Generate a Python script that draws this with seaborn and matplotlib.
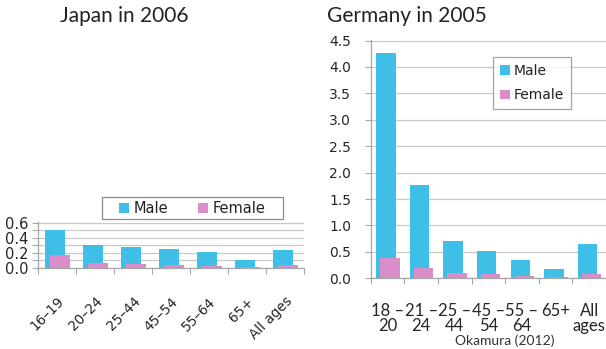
import matplotlib
matplotlib.use("Agg")
import matplotlib.pyplot as plt
import seaborn as sns
import numpy as np
import pandas as pd
from matplotlib.patches import Rectangle
from matplotlib.ticker import MultipleLocator, FixedLocator, FormatStrFormatter

# Japan, 2006
jp_groups = ["16–19", "20–24", "25–44", "45–54", "55–64", "65+", "All ages"]
jp_male = [0.50, 0.31, 0.28, 0.25, 0.21, 0.11, 0.235]
jp_female = [0.17, 0.06, 0.05, 0.04, 0.03, 0.01, 0.04]

# Germany, 2005
de_groups = ["18 –\n20", "21 –\n24", "25 –\n44", "45 –\n54", "55 –\n64", "65+", "All\nages"]
de_male = [4.26, 1.77, 0.70, 0.51, 0.34, 0.17, 0.64]
de_female = [0.39, 0.19, 0.095, 0.09, 0.04, 0.02, 0.09]

MALE = "#3DBFE8"
FEMALE = "#D98DC9"
GRID = "#C9C9C9"
SPINE = "#A6A6A6"
FRAME = "#8C8C8C"

sns.set_theme(style="white")
plt.rcParams["font.family"] = ["DejaVu Sans"]

W, H = 606, 349
fig = plt.figure(figsize=(W / 100, H / 100), dpi=100)


def place(x0, x1, ytop, ybot):
    return fig.add_axes([x0 / W, 1 - ybot / H, (x1 - x0) / W, (ybot - ytop) / H])


def draw_pair(ax, groups, male, female, width, label_pad):
    df = pd.DataFrame({"group": groups, "Male": male, "Female": female})
    sns.barplot(data=df, x="group", y="Male", color=MALE, width=width,
                saturation=1, linewidth=0, ax=ax, label="Male")
    n_male = len(ax.patches)
    sns.barplot(data=df, x="group", y="Female", color=FEMALE, width=width,
                saturation=1, linewidth=0, ax=ax, label="Female")
    # overlapping clustered bars: male slightly left, female slightly right
    for i, p in enumerate(ax.patches):
        shift = -0.05 if i < n_male else 0.07
        p.set_x(p.get_x() + shift)
    n = len(groups)
    ax.set_xlim(-0.5, n - 0.5)
    ax.xaxis.set_major_locator(FixedLocator(np.arange(n + 1) - 0.5))
    ax.xaxis.set_minor_locator(FixedLocator(np.arange(n)))
    ax.tick_params(axis="x", which="major", length=4, width=0.8, color=SPINE,
                   direction="out", bottom=True, labelbottom=False)
    ax.tick_params(axis="x", which="minor", length=0, bottom=True,
                   labelbottom=True, pad=label_pad)
    ax.set_xlabel("")
    ax.set_ylabel("")
    for s in ["top", "right"]:
        ax.spines[s].set_visible(False)
    for s in ["left", "bottom"]:
        ax.spines[s].set_color(SPINE)
        ax.spines[s].set_linewidth(0.9)
    ax.set_axisbelow(True)
    ax.grid(axis="y", which="both", color=GRID, linewidth=0.9)
    ax.grid(axis="x", visible=False)


# ---- Japan panel ----
AX1_X0, AX1_X1, AX1_TOP, AX1_BOT = 38, 304, 222.3, 268
ax1 = place(AX1_X0, AX1_X1, AX1_TOP, AX1_BOT)
draw_pair(ax1, jp_groups, jp_male, jp_female, 0.53, label_pad=19)
ax1.set_xticklabels(jp_groups, minor=True, rotation=45, ha="right", va="top",
                    rotation_mode="anchor", fontsize=9.8)
ax1.set_ylim(0, 0.605)
ax1.yaxis.set_major_locator(FixedLocator([0.0, 0.2, 0.4, 0.6]))
ax1.yaxis.set_minor_locator(FixedLocator([0.1, 0.3, 0.5]))
ax1.yaxis.set_major_formatter(FormatStrFormatter("%.1f"))
ax1.tick_params(axis="y", which="both", length=4, width=0.8, color=SPINE,
                left=True, labelsize=10.5, pad=3)

# wide legend box above the Japan panel, with the entries centred inside it
w1, h1 = AX1_X1 - AX1_X0, AX1_BOT - AX1_TOP
fx0, fx1, fy0, fy1 = 101.7, 282.7, 197.3, 219.3
frame1 = Rectangle(((fx0 - AX1_X0) / w1, (AX1_BOT - fy1) / h1),
                   (fx1 - fx0) / w1, (fy1 - fy0) / h1, transform=ax1.transAxes,
                   facecolor="white", edgecolor=FRAME, linewidth=0.9,
                   clip_on=False, zorder=5)
ax1.add_patch(frame1)
leg1_center = (((fx0 + fx1) / 2 - AX1_X0) / w1, (AX1_BOT - (fy0 + fy1) / 2) / h1)
leg1 = ax1.legend(loc="center", bbox_to_anchor=leg1_center,
                  ncol=2, frameon=False, fontsize=10.5, handlelength=0.7,
                  handleheight=0.7, handletextpad=0.3, borderpad=0,
                  borderaxespad=0, columnspacing=2.0)
leg1.set_zorder(6)
for t in leg1.get_texts():
    t.set_color("#222222")

# ---- Germany panel ----
ax2 = place(370.7, 606, 40, 278.3)
draw_pair(ax2, de_groups, de_male, de_female, 0.58, label_pad=18)
ax2.set_xticklabels(de_groups, minor=True, ha="center", va="top",
                    fontsize=12, linespacing=0.9,
                    family=["Lato", "DejaVu Sans"])
ax2.set_ylim(0, 4.51)
ax2.yaxis.set_major_locator(MultipleLocator(0.5))
ax2.yaxis.set_major_formatter(FormatStrFormatter("%.1f"))
ax2.tick_params(axis="y", which="major", length=4, width=0.8, color=SPINE,
                left=True, labelsize=10, pad=10)
leg2 = ax2.legend(loc="upper left", bbox_to_anchor=((493 - 370.7) / 235.3, 1 - 17 / 238.3),
                  frameon=True, fancybox=False, fontsize=10,
                  handlelength=0.7, handleheight=0.7, handletextpad=0.3,
                  borderpad=0.5, labelspacing=0.75, borderaxespad=0)
leg2.get_frame().set_edgecolor(FRAME)
leg2.get_frame().set_linewidth(0.9)
for t in leg2.get_texts():
    t.set_color("#222222")

# Titles and source note
fig.text(124 / W, 1 - 16 / H, "Japan in 2006", ha="center", va="center",
         fontsize=15, family=["Lato", "DejaVu Sans"], color="#222222")
fig.text(407 / W, 1 - 16 / H, "Germany in 2005", ha="center", va="center",
         fontsize=15, family=["Lato", "DejaVu Sans"], color="#222222")
fig.text(505 / W, 1 - 341 / H, "Okamura (2012)", ha="center", va="center",
         fontsize=10, family=["Lato", "DejaVu Sans"], color="#333333")

fig.savefig("out.png", dpi=100)
